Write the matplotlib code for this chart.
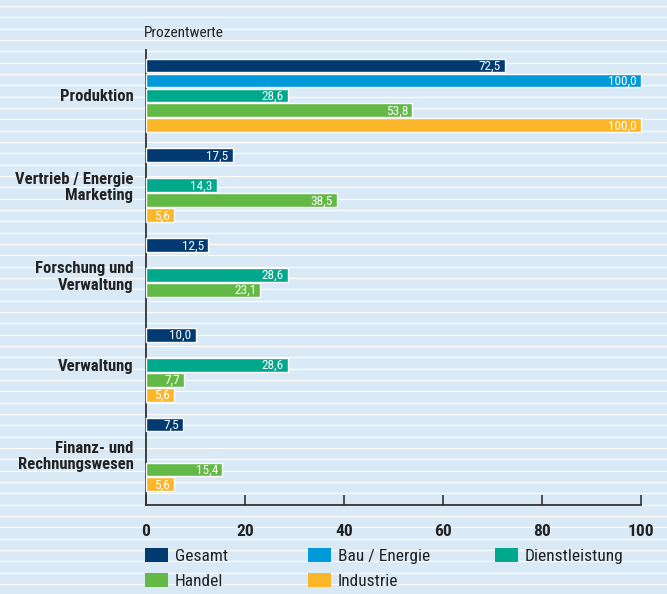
import matplotlib
matplotlib.use("Agg")
import matplotlib.pyplot as plt
from matplotlib.patches import Patch
from matplotlib.lines import Line2D

plt.rcParams['font.family'] = ['Roboto Condensed', 'DejaVu Sans']

# ---- data ----
categories = ["Produktion", "Vertrieb / Energie\nMarketing", "Forschung und\nVerwaltung",
              "Verwaltung", "Finanz- und\nRechnungswesen"]
series_names = ["Gesamt", "Bau / Energie", "Dienstleistung", "Handel", "Industrie"]
gesamt = [72.5, 17.5, 12.5, 10.0, 7.5]
bau_energie = [100.0, None, None, None, None]
dienstleistung = [28.6, 14.3, 28.6, 28.6, None]
handel = [53.8, 38.5, 23.1, 7.7, 15.4]
industrie = [100.0, 5.6, None, 5.6, 5.6]
x_ticks = [0, 20, 40, 60, 80, 100]
axis_title = "Prozentwerte"

series = [gesamt, bau_energie, dienstleistung, handel, industrie]
colors = ["#003a70", "#009ad9", "#00a88c", "#63b946", "#fbb62a"]
bg = "#d9e9f5"

W, H = 667, 594
fig = plt.figure(figsize=(W / 100, H / 100), dpi=100, facecolor=bg)

# striped background
y = 6.0
while y < H:
    fig.add_artist(Line2D([0, 1], [1 - y / H, 1 - y / H], transform=fig.transFigure,
                          color="white", lw=0.9, zorder=0))
    y += 11.33

left_px, right_px, top_px, bot_px = 146, 641, 50, 505
ax = fig.add_axes([left_px / W, 1 - bot_px / H, (right_px - left_px) / W, (bot_px - top_px) / H])
ax.set_facecolor("none")

slots = 6
for j, (vals, col) in enumerate(zip(series, colors)):
    for i, v in enumerate(vals):
        if v is None:
            continue
        yy = i * slots + j
        ax.barh(yy, v, height=0.92, color=col, edgecolor="white", linewidth=1.0,
                clip_on=False, zorder=3)
        ax.text(v - 0.8, yy + 0.05, f"{v:.1f}".replace(".", ","), ha="right", va="center",
                color="white", fontsize=9.5, zorder=4, clip_on=False)

ax.set_xlim(0, 100)
pitch = 14.96
ax.set_ylim((bot_px - 65.5) / pitch, -(65.5 - top_px) / pitch)

ax.set_yticks([i * slots + 2 for i in range(len(categories))])
ax.set_yticklabels(categories, fontsize=12, fontweight="bold", color="#222222",
                   linespacing=1.1)
ax.tick_params(axis="y", length=0, pad=9)

ax.set_xticks(x_ticks)
ax.set_xticklabels([str(t) for t in x_ticks], fontsize=12.5, fontweight="bold", color="#222222")
ax.tick_params(axis="x", direction="in", length=7, width=1.2, color="#333333", pad=14)

for s in ["top", "right"]:
    ax.spines[s].set_visible(False)
for s in ["left", "bottom"]:
    ax.spines[s].set_color("#333333")
    ax.spines[s].set_linewidth(1.3)

fig.text(144 / W, 1 - 33 / H, axis_title, fontsize=11, color="#222222", va="center", ha="left")

# legend: three columns
handles = [Patch(facecolor=c, edgecolor="none") for c in colors]
cols_idx = [[0, 3], [1, 4], [2]]
col_x = [145, 308, 495]
fs = 12.5
for ci, (idxs, cx) in enumerate(zip(cols_idx, col_x)):
    leg = fig.legend([handles[k] for k in idxs], [series_names[k] for k in idxs],
                     loc="upper left", bbox_to_anchor=(cx / W, 1 - 548 / H),
                     frameon=False, fontsize=fs, handlelength=1.3, handleheight=0.87,
                     handletextpad=0.43, labelspacing=0.52, borderpad=0, borderaxespad=0)
    for t in leg.get_texts():
        t.set_color("#222222")

fig.savefig("out.png", dpi=100, facecolor=bg)
